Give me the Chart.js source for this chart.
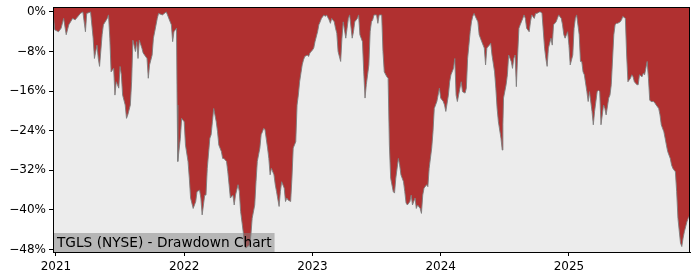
<!DOCTYPE html>
<html>
<head>
<meta charset="utf-8">
<script src="https://cdn.jsdelivr.net/npm/chart.js@4"></script>
<style>
  html, body { margin: 0; padding: 0; background: #ffffff; }
  #wrap { width: 700px; height: 280px; position: relative; }
</style>
</head>
<body>
<div id="wrap"><canvas id="grafica"></canvas></div>
<script>
// Fechas en años decimales y drawdown en %
const dates = [
  2020.98, 2020.99, 2021.02, 2021.04, 2021.06, 2021.08, 2021.10, 2021.13, 2021.15, 2021.19,
  2021.21, 2021.23, 2021.24, 2021.27, 2021.29, 2021.30, 2021.32, 2021.33, 2021.34, 2021.36,
  2021.37, 2021.40, 2021.41, 2021.42, 2021.43, 2021.45, 2021.46, 2021.47, 2021.49, 2021.50,
  2021.51, 2021.52, 2021.54, 2021.55, 2021.56, 2021.58, 2021.59, 2021.60, 2021.62, 2021.63,
  2021.64, 2021.65, 2021.67, 2021.68, 2021.71, 2021.72, 2021.73, 2021.75, 2021.76, 2021.77,
  2021.79, 2021.80, 2021.83, 2021.86, 2021.87, 2021.88, 2021.90, 2021.91, 2021.92, 2021.94,
  2021.945, 2021.95, 2021.97, 2021.98, 2022.00, 2022.01, 2022.03, 2022.04, 2022.05, 2022.07,
  2022.08, 2022.09, 2022.10, 2022.12, 2022.13, 2022.14, 2022.16, 2022.17, 2022.18, 2022.20,
  2022.21, 2022.22, 2022.23, 2022.25, 2022.26, 2022.27, 2022.29, 2022.30, 2022.31, 2022.33,
  2022.34, 2022.35, 2022.36, 2022.38, 2022.39, 2022.40, 2022.42, 2022.43, 2022.44, 2022.46,
  2022.47, 2022.48, 2022.51, 2022.52, 2022.53, 2022.55, 2022.56, 2022.57, 2022.59, 2022.60,
  2022.61, 2022.62, 2022.63, 2022.65, 2022.66, 2022.67, 2022.68, 2022.70, 2022.71, 2022.72,
  2022.74, 2022.75, 2022.76, 2022.78, 2022.79, 2022.80, 2022.81, 2022.83, 2022.84, 2022.85,
  2022.87, 2022.88, 2022.89, 2022.90, 2022.92, 2022.93, 2022.94, 2022.96, 2022.97, 2022.98,
  2023.00, 2023.01, 2023.02, 2023.04, 2023.05, 2023.06, 2023.07, 2023.09, 2023.10, 2023.11,
  2023.13, 2023.14, 2023.15, 2023.17, 2023.18, 2023.19, 2023.20, 2023.22, 2023.23, 2023.24,
  2023.26, 2023.27, 2023.28, 2023.29, 2023.31, 2023.32, 2023.33, 2023.35, 2023.36, 2023.37,
  2023.39, 2023.40, 2023.41, 2023.42, 2023.44, 2023.45, 2023.46, 2023.47, 2023.48, 2023.50,
  2023.51, 2023.52, 2023.54, 2023.55, 2023.56, 2023.58, 2023.59, 2023.60, 2023.61, 2023.63,
  2023.64, 2023.65, 2023.67, 2023.68, 2023.69, 2023.71, 2023.72, 2023.73, 2023.74, 2023.76,
  2023.77, 2023.78, 2023.80, 2023.81, 2023.82, 2023.84, 2023.85, 2023.86, 2023.87, 2023.89,
  2023.90, 2023.91, 2023.93, 2023.94, 2023.95, 2023.97, 2023.98, 2023.99, 2024.00, 2024.02,
  2024.03, 2024.04, 2024.06, 2024.07, 2024.08, 2024.10, 2024.11, 2024.12, 2024.13, 2024.15,
  2024.16, 2024.17, 2024.19, 2024.20, 2024.21, 2024.23, 2024.24, 2024.25, 2024.26, 2024.27,
  2024.29, 2024.30, 2024.31, 2024.32, 2024.34, 2024.35, 2024.36, 2024.38, 2024.39, 2024.40,
  2024.42, 2024.43, 2024.44, 2024.45, 2024.47, 2024.48, 2024.485, 2024.49, 2024.51, 2024.52,
  2024.53, 2024.55, 2024.56, 2024.57, 2024.58, 2024.59, 2024.60, 2024.61, 2024.62, 2024.64,
  2024.65, 2024.66, 2024.67, 2024.69, 2024.70, 2024.71, 2024.73, 2024.74, 2024.75, 2024.77,
  2024.78, 2024.79, 2024.81, 2024.82, 2024.83, 2024.84, 2024.86, 2024.87, 2024.88, 2024.90,
  2024.91, 2024.92, 2024.94, 2024.95, 2024.96, 2024.97, 2024.99, 2025.00, 2025.01, 2025.03,
  2025.04, 2025.05, 2025.06, 2025.08, 2025.09, 2025.10, 2025.11, 2025.12, 2025.14, 2025.15,
  2025.16, 2025.18, 2025.19, 2025.20, 2025.22, 2025.23, 2025.24, 2025.25, 2025.27, 2025.28,
  2025.29, 2025.31, 2025.32, 2025.33, 2025.35, 2025.36, 2025.37, 2025.38, 2025.40, 2025.41,
  2025.42, 2025.44, 2025.45, 2025.46, 2025.48, 2025.49, 2025.50, 2025.51, 2025.53, 2025.54,
  2025.55, 2025.57, 2025.58, 2025.59, 2025.61, 2025.62, 2025.63, 2025.64, 2025.66, 2025.67,
  2025.68, 2025.70, 2025.71, 2025.72, 2025.74, 2025.75, 2025.76, 2025.77, 2025.79, 2025.80,
  2025.81, 2025.83, 2025.84, 2025.85, 2025.87, 2025.88, 2025.89, 2025.90, 2025.92, 2025.93,
  2025.944
];

const drawdown = [
  -0.6, -3.6, -4.0, -3.3, -1.3, -4.6, -2.6, -1.3, -1.6, -0.3,
  0, -4.0, -0.3, 0, -5.3, -9.4, -6.7, -9.4, -11.0, -4.6,
  -2.6, -1.3, -0.6, -5.3, -12.1, -11.4, -16.8, -14.1, -15.4, -11.0,
  -12.7, -16.8, -18.8, -21.5, -20.8, -18.8, -14.1, -5.7, -8.0, -6.0,
  -9.4, -5.7, -7.3, -8.3, -9.4, -13.4, -10.7, -8.7, -5.3, -4.0,
  -1.3, -0.3, -0.6, 0, -0.6, -1.3, -2.6, -6.0, -4.0, -3.3,
  -18.8, -30.2, -25.5, -21.5, -22.2, -26.9, -30.2, -33.6, -37.6, -39.7,
  -39.0, -38.3, -36.3, -36.0, -37.6, -41.0, -37.0, -37.0, -31.6, -25.5,
  -24.8, -22.2, -19.5, -22.2, -24.2, -26.9, -28.2, -29.6, -29.6, -30.2,
  -32.3, -34.9, -37.6, -37.0, -39.0, -37.0, -34.9, -36.3, -40.3, -44.4,
  -47.1, -47.7, -47.1, -45.1, -41.7, -39.0, -34.3, -30.2, -27.5, -24.8,
  -24.2, -23.5, -23.8, -27.5, -29.6, -32.9, -31.6, -32.9, -34.9, -36.3,
  -39.3, -36.3, -34.3, -35.6, -38.3, -37.6, -38.0, -38.3, -33.6, -27.5,
  -26.2, -18.8, -16.8, -14.1, -10.7, -9.7, -9.0, -8.7, -9.0, -8.3,
  -7.7, -7.3, -6.0, -4.0, -2.6, -2.0, -1.3, -0.6, -0.9, -0.6,
  -1.6, -2.3, -1.3, -2.0, -3.3, -4.3, -8.0, -10.0, -5.3, -2.0,
  -5.3, -3.3, -1.3, -0.6, -5.3, -4.0, -2.0, -1.3, -0.6, -4.6,
  -6.0, -12.1, -17.4, -14.7, -10.7, -4.0, -2.0, -1.6, -0.6, -0.6,
  -2.3, -0.6, -0.6, -8.0, -12.1, -13.1, -13.4, -26.9, -33.6, -36.3,
  -36.6, -33.6, -29.6, -30.9, -32.9, -34.3, -36.3, -38.6, -39.0, -38.3,
  -37.0, -39.0, -37.6, -39.7, -39.0, -39.7, -40.7, -37.0, -35.6, -34.9,
  -35.3, -31.6, -27.5, -24.2, -19.5, -18.1, -16.8, -15.4, -17.4, -18.1,
  -18.8, -20.1, -16.8, -14.1, -12.7, -11.4, -9.4, -16.8, -18.1, -15.4,
  -14.1, -16.1, -16.4, -15.4, -9.4, -4.0, -2.0, -0.9, -0.3, -0.9,
  -2.0, -4.6, -5.3, -6.0, -7.3, -10.7, -7.3, -6.7, -6.3, -8.7,
  -12.1, -15.4, -19.5, -22.2, -25.5, -27.9, -22.8, -17.4, -14.7, -12.7,
  -8.7, -10.0, -11.4, -9.4, -8.7, -15.1, -8.7, -3.3, -2.6, -1.3,
  -0.6, -1.3, -3.3, -4.0, -2.0, -0.6, -1.3, -0.3, -0.3, 0,
  0, -0.3, -7.3, -9.4, -11.0, -7.3, -5.3, -6.7, -2.6, -2.0,
  -1.3, -0.6, -1.3, -2.6, -4.6, -5.3, -4.0, -6.7, -10.7, -8.7,
  -3.3, -1.3, -0.6, -4.6, -10.0, -10.0, -12.1, -12.7, -16.1, -18.1,
  -16.1, -20.1, -22.8, -20.1, -16.1, -15.8, -16.1, -22.8, -18.8, -19.5,
  -20.8, -17.4, -16.8, -14.7, -4.6, -2.6, -2.3, -2.3, -2.0, -1.6,
  -0.9, -1.3, -8.7, -14.1, -13.4, -12.7, -13.1, -14.1, -14.7, -14.7,
  -12.7, -13.1, -12.4, -12.7, -10.0, -13.4, -17.8, -18.1, -18.1, -18.4,
  -18.8, -19.5, -20.8, -22.8, -24.2, -25.5, -26.9, -28.2, -29.6, -30.9,
  -31.6, -32.3, -36.3, -41.7, -46.7, -47.4, -45.7, -44.4, -42.4, -41.7,
  -41.0
];

const yTicks = [0, -8, -16, -24, -32, -40, -48];
const xTicks = [2021, 2022, 2023, 2024, 2025];
const titulo = 'TGLS (NYSE) - Drawdown Chart';

const fuente = { family: 'DejaVu Sans', size: 12 };

// Fondo gris del área de la gráfica
const fondoPlugin = {
  id: 'fondo',
  beforeDraw(chart) {
    const { ctx, chartArea: a } = chart;
    ctx.save();
    ctx.fillStyle = '#ececec';
    ctx.fillRect(a.left, a.top, a.right - a.left, a.bottom - a.top);
    ctx.restore();
  }
};

// Etiqueta inferior y marco
const etiquetaPlugin = {
  id: 'etiqueta',
  afterDatasetsDraw(chart) {
    const { ctx, chartArea: a } = chart;
    ctx.save();
    ctx.font = '13.7px "DejaVu Sans"';
    const w = ctx.measureText(titulo).width;
    ctx.fillStyle = 'rgba(128,128,128,0.5)';
    ctx.fillRect(a.left, a.bottom - 19, w + 7, 19);
    ctx.fillStyle = '#000';
    ctx.textBaseline = 'middle';
    ctx.fillText(titulo, a.left + 4, a.bottom - 9);
    ctx.strokeStyle = '#000';
    ctx.lineWidth = 1;
    ctx.strokeRect(a.left + 0.5, a.top + 0.5, a.right - a.left - 1, a.bottom - a.top);
    ctx.restore();
  }
};

document.addEventListener('DOMContentLoaded', function() {
  const puntos = dates.map((d, i) => ({ x: d, y: drawdown[i] }));
  const ctx = document.getElementById('grafica').getContext('2d');
  new Chart(ctx, {
    type: 'line',
    data: {
      datasets: [{
        data: puntos,
        borderColor: 'rgba(125,125,125,0.9)',
        borderWidth: 1,
        backgroundColor: 'rgb(176,48,48)',
        fill: 'end',
        pointRadius: 0,
        tension: 0
      }]
    },
    options: {
      responsive: true,
      maintainAspectRatio: false,
      animation: false,
      layout: { padding: { top: 7, right: 10, left: 0, bottom: 0 } },
      plugins: { legend: { display: false }, tooltip: { enabled: false } },
      scales: {
        x: {
          type: 'linear',
          min: 2020.977,
          max: 2025.944,
          afterBuildTicks: s => { s.ticks = xTicks.map(v => ({ value: v })); },
          afterFit: s => { s.height = 28; s.paddingLeft = 0; s.paddingRight = 0; },
          grid: { drawOnChartArea: false, drawTicks: true, tickLength: 4, color: '#000' },
          border: { display: true, color: '#000' },
          ticks: {
            color: '#000', font: fuente, padding: 4, maxRotation: 0,
            callback: v => String(v)
          }
        },
        y: {
          min: -48.5,
          max: 1.0,
          afterBuildTicks: s => { s.ticks = yTicks.map(v => ({ value: v })); },
          afterFit: s => { s.width = 53; s.paddingTop = 0; s.paddingBottom = 0; },
          grid: { drawOnChartArea: false, drawTicks: true, tickLength: 4, color: '#000' },
          border: { display: true, color: '#000' },
          ticks: {
            color: '#000', font: fuente, padding: 3,
            callback: v => (v === 0 ? '0%' : '\u2212' + Math.abs(v) + '%')
          }
        }
      }
    },
    plugins: [fondoPlugin, etiquetaPlugin]
  });
});
</script>
</body>
</html>
